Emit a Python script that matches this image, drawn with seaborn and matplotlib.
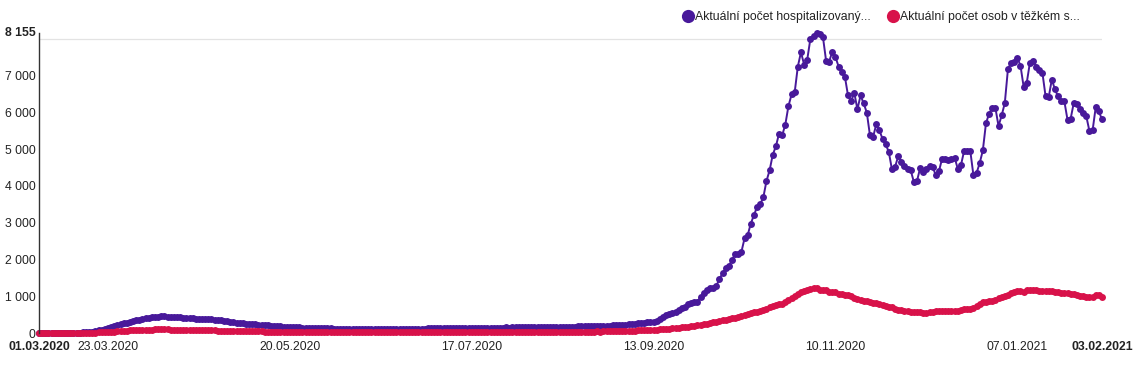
import numpy as np
import pandas as pd
import matplotlib
matplotlib.use("Agg")
import matplotlib.pyplot as plt
from matplotlib.lines import Line2D
import seaborn as sns

# ---------------- data ----------------
start_date = "2020-03-01"
end_date = "2021-02-03"

series_names = ["Aktuální počet hospitalizovaný...", "Aktuální počet osob v těžkém s..."]

hospitalized = [
    # March 2020
    0, 0, 0, 0, 0, 0, 1, 2, 3, 4, 5, 7, 9, 12, 16, 22, 30, 40, 52, 68, 85, 105, 130, 155, 180, 210, 240, 265, 285, 305, 325,
    # April
    340, 360, 380, 400, 415, 425, 435, 445, 452, 450, 445, 440, 438, 430, 425, 420, 410, 400, 395, 385, 380, 372, 378, 382, 375, 365, 355, 345, 335, 325,
    # May
    300, 290, 280, 270, 262, 255, 248, 240, 232, 225, 218, 210, 205, 200, 195, 188, 182, 176, 170, 165, 160, 156, 152, 148, 145, 142, 139, 136, 133, 130, 128,
    # June
    125, 123, 121, 119, 118, 117, 116, 115, 114, 113, 112, 112, 111, 111, 110, 110, 111, 112, 112, 113, 114, 114, 115, 116, 117, 118, 118, 119, 120, 120,
    # July
    121, 120, 123, 125, 124, 127, 126, 128, 131, 130, 132, 129, 133, 135, 134, 136, 138, 137, 140, 139, 142, 141, 144, 143, 146, 148, 147, 150, 149, 152, 151,
    # August
    152, 155, 154, 157, 156, 159, 158, 161, 163, 162, 165, 164, 167, 169, 168, 171, 173, 172, 175, 178, 177, 180, 183, 185, 184, 188, 192, 195, 198, 202, 206,
    # September 1-6
    212, 218, 225, 231, 240, 248,
    # 7 Sep - 16 Oct
    258, 270, 280, 285, 300, 290, 305, 330, 370, 425, 490, 530, 535, 560, 625, 670, 715, 785, 820, 830, 850,
    985, 1075, 1165, 1235, 1230, 1275, 1475, 1620, 1755, 1820, 1980, 2145, 2160, 2205, 2570, 2660, 2975, 3200, 3430, 3500, 3690,
    # 18 Oct - 2 Dec
    4133, 4422, 4848, 5073, 5417, 5372, 5662, 6167, 6484, 6547, 7244, 7632, 7298, 7434, 7995, 8085, 8155, 8130, 8050, 7406,
    7380, 7650, 7500, 7244, 7090, 6970, 6457, 6295, 6530, 6080, 6457, 6240, 5990, 5372, 5327, 5670, 5508, 5282, 5130, 4925,
    4450, 4513, 4802, 4650, 4540, 4470,
    # 3 Dec - 4 Jan
    4422, 4105, 4130, 4485, 4376, 4467, 4548, 4513, 4287, 4395, 4739, 4720, 4694, 4739, 4767, 4467, 4558, 4938, 4947, 4947,
    4287, 4350, 4620, 4965, 5705, 5960, 6113, 6122, 5624, 5914, 6248, 7170, 7344,
    # 5 Jan - 3 Feb
    7360, 7480, 7270, 6700, 6800, 7344, 7390, 7244, 7154, 7072, 6438, 6410, 6890, 6620, 6430, 6320, 6295, 5797, 5824, 6258,
    6230, 6077, 5977, 5887, 5488, 5506, 6140, 6023, 5805,
]

severe = [
    # March 2020
    0, 0, 0, 0, 0, 0, 0, 0, 0, 1, 1, 2, 2, 3, 4, 5, 7, 9, 12, 15, 19, 23, 27, 32, 38, 44, 50, 56, 62, 68, 73,
    # April
    78, 82, 86, 89, 92, 94, 96, 97, 98, 97, 96, 95, 93, 92, 90, 88, 86, 84, 82, 80, 78, 76, 74, 72, 70, 68, 66, 64, 62, 60,
    # May
    58, 56, 54, 52, 50, 48, 46, 45, 44, 42, 41, 40, 39, 38, 37, 36, 35, 34, 33, 32, 31, 30, 29, 28, 28, 27, 26, 25, 25, 24, 24,
    # June
    23, 23, 22, 22, 21, 21, 20, 20, 19, 19, 18, 18, 18, 17, 17, 17, 17, 16, 16, 16, 16, 17, 17, 17, 18, 18, 18, 19, 19, 19,
    # July
    20, 20, 21, 20, 21, 22, 21, 22, 23, 22, 23, 24, 23, 24, 25, 24, 25, 26, 25, 26, 27, 26, 27, 28, 27, 28, 29, 28, 29, 30, 30,
    # August
    31, 30, 31, 32, 31, 32, 33, 32, 33, 34, 33, 34, 35, 34, 35, 36, 35, 36, 37, 36, 38, 37, 39, 38, 40, 41, 40, 42, 43, 44, 45,
    # September
    47, 49, 51, 54, 57, 60, 64, 68, 73, 78, 82, 86, 90, 95, 100, 105, 112, 118, 125, 132, 140, 150, 160, 172, 184, 196, 210, 225, 240, 255,
    # October
    270, 290, 305, 325, 350, 365, 380, 400, 420, 440, 455, 480, 510, 535, 560, 580, 600, 620, 660, 700, 730, 760, 780, 800, 840,
    900, 960, 1010, 1060, 1110, 1140,
    # November
    1170, 1200, 1235, 1210, 1170, 1160, 1175, 1125, 1110, 1120, 1070, 1055, 1040, 1035, 1000, 960, 920, 895, 870, 860,
    840, 825, 820, 790, 760, 735, 720, 700, 660, 630,
    # December
    615, 600, 590, 580, 575, 570, 560, 555, 550, 560, 570, 585, 595, 590, 600, 605, 600, 605, 610, 625,
    640, 650, 665, 690, 740, 790, 830, 850, 860, 880, 910,
    # January 2021
    940, 970, 1000, 1030, 1080, 1120, 1145, 1130, 1125, 1160, 1170, 1165, 1160, 1155, 1150, 1140, 1145, 1130, 1120, 1110,
    1100, 1095, 1080, 1070, 1060, 1040, 1015, 1000, 990, 970, 975,
    # February
    1040, 1030, 990,
]

y_max = 8155
y_tick_values = [0, 1000, 2000, 3000, 4000, 5000, 6000, 7000, 8155]
y_tick_labels = ["0", "1 000", "2 000", "3 000", "4 000", "5 000", "6 000", "7 000", "8 155"]
y_grid_values = [0, 1000, 2000, 3000, 4000, 5000, 6000, 7000, 8000]

x_tick_dates = ["2020-03-01", "2020-03-23", "2020-05-20", "2020-07-17", "2020-09-13",
                "2020-11-10", "2021-01-07", "2021-02-03"]
x_tick_labels = ["01.03.2020", "23.03.2020", "20.05.2020", "17.07.2020", "13.09.2020",
                 "10.11.2020", "07.01.2021", "03.02.2021"]

colors = ["#48199a", "#d8124a"]

# ---------------- build frame ----------------
dates = pd.date_range(start_date, end_date, freq="D")
df = pd.DataFrame({
    "datum": np.concatenate([dates, dates]),
    "hodnota": hospitalized + severe,
    "serie": [series_names[0]] * len(dates) + [series_names[1]] * len(dates),
})

# ---------------- plot ----------------
sns.set_theme(style="white")
plt.rcParams["font.family"] = ["Liberation Sans", "DejaVu Sans"]

W, H = 1145, 372
fig = plt.figure(figsize=(W / 100, H / 100), dpi=100)
ax = fig.add_axes([39 / W, 1 - 333 / H, (1102 - 39) / W, (333 - 33) / H])

sns.lineplot(
    data=df, x="datum", y="hodnota", hue="serie", hue_order=series_names,
    palette=colors, marker="o", markersize=5.0, markeredgewidth=0,
    linewidth=1.4, ax=ax, legend=False, clip_on=False,
)

ax.set_xlim(dates[0], dates[-1])
ax.set_ylim(0, y_max)

# ticks
xt = pd.to_datetime(x_tick_dates)
ax.set_xticks(xt)
ax.set_xticklabels(x_tick_labels)
ax.set_xticks(xt[1:-1], minor=True)
ax.set_yticks(y_tick_values)
ax.set_yticklabels(y_tick_labels)
ax.set_yticks(y_grid_values, minor=True)

ax.tick_params(axis="both", which="both", length=0)
ax.tick_params(axis="x", which="major", labelsize=8.8, pad=6, labelcolor="#222222")
ax.tick_params(axis="y", which="major", labelsize=8.8, pad=2.5, labelcolor="#222222")

for lbl in (ax.get_xticklabels()[0], ax.get_xticklabels()[-1], ax.get_yticklabels()[-1]):
    lbl.set_fontweight("bold")
ax.get_yticklabels()[-1].set_va("center")

ax.grid(False, which="major")
ax.grid(True, which="minor", color="#e3e3e3", linewidth=0.9)
ax.set_axisbelow(True)

for s in ["top", "right", "bottom"]:
    ax.spines[s].set_visible(False)
ax.spines["left"].set_color("#333333")
ax.spines["left"].set_linewidth(1.0)
ax.spines["left"].set_zorder(5)

ax.set_xlabel("")
ax.set_ylabel("")

# legend
handles = [Line2D([], [], marker="o", linestyle="", color=c, markersize=9.5, markeredgewidth=0) for c in colors]
fig.legend(handles, series_names, loc="center left", bbox_to_anchor=(684 / W, 1 - 17 / H),
           ncol=2, frameon=False, fontsize=8.8, handlelength=0.7, handletextpad=0.2,
           columnspacing=1.5, borderpad=0, borderaxespad=0, labelcolor="#222222")

fig.savefig("out.png", dpi=100)
